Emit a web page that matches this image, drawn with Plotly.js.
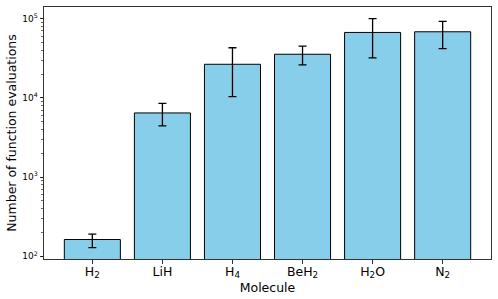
<!DOCTYPE html>
<html>
<head>
<meta charset="utf-8">
<script src="https://cdn.plot.ly/plotly-3.0.1.min.js"></script>
<style>html,body{margin:0;padding:0;background:#fff;}#chart{width:498px;height:299px;}</style>
</head>
<body>
<div id="chart"></div>
<script>
const molecules = ['H<sub>2</sub>', 'LiH', 'H<sub>4</sub>', 'BeH<sub>2</sub>', 'H<sub>2</sub>O', 'N<sub>2</sub>'];
const evaluations = [163, 6460, 26600, 35600, 67100, 68400];
const errUpper = [191, 8550, 43000, 45000, 100000, 92400];
const errLower = [129, 4430, 10400, 26200, 32000, 42000];
const yTickVals = [100, 1000, 10000, 100000];
const yTickText = ['10<sup>2</sup>', '10<sup>3</sup>', '10<sup>4</sup>', '10<sup>5</sup>'];

const xIdx = molecules.map((m, i) => i);
const plus = evaluations.map((v, i) => errUpper[i] - v);
const minus = evaluations.map((v, i) => v - errLower[i]);

const trace = {
  type: 'bar',
  x: xIdx,
  y: evaluations,
  width: 0.8,
  marker: {color: '#87CEEB', line: {color: '#000', width: 1}},
  error_y: {type: 'data', symmetric: false, array: plus, arrayminus: minus,
            color: '#000', thickness: 1.3, width: 4},
  hoverinfo: 'none'
};

const layout = {
  width: 498, height: 299,
  margin: {l: 44, r: 7, t: 7, b: 40},
  paper_bgcolor: '#fff', plot_bgcolor: '#fff',
  font: {family: 'DejaVu Sans', color: '#000', size: 12},
  showlegend: false,
  bargap: 0.2,
  xaxis: {
    range: [-0.69, 5.69],
    tickvals: xIdx, ticktext: molecules,
    ticks: 'outside', ticklen: 3.5, tickcolor: '#000', tickwidth: 0.8,
    ticklabelstandoff: -3,
    showline: true, linecolor: '#333', linewidth: 1, mirror: true,
    showgrid: false, zeroline: false,
    tickfont: {size: 12.5},
    title: {text: 'Molecule', font: {size: 12.5}, standoff: 0}
  },
  yaxis: {
    type: 'log',
    range: [1.966, 5.148],
    tickvals: yTickVals, ticktext: yTickText,
    ticks: 'outside', ticklen: 3.5, tickcolor: '#000', tickwidth: 0.8,
    minor: {ticks: 'outside', ticklen: 2, tickcolor: '#000', tickwidth: 0.6, dtick: 'D1', showgrid: false},
    showline: true, linecolor: '#333', linewidth: 1, mirror: true,
    showgrid: false, zeroline: false,
    tickfont: {size: 9},
    title: {text: 'Number of function evaluations', font: {size: 12.5}, standoff: 2}
  }
};

Plotly.newPlot('chart', [trace], layout, {staticPlot: true, displayModeBar: false});
</script>
</body>
</html>
